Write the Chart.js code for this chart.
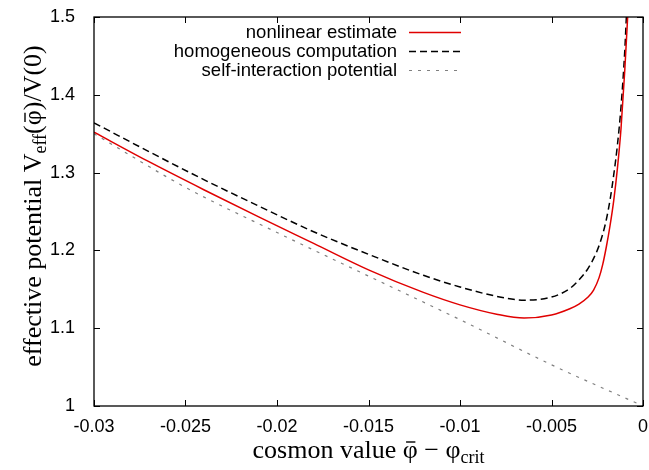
<!DOCTYPE html>
<html>
<head>
<meta charset="utf-8">
<script src="https://cdn.jsdelivr.net/npm/chart.js@4"></script>
<style>
  body { margin: 0; background: #fff; }
  #wrap { width: 649px; height: 470px; position: relative; }
</style>
</head>
<body>
<div id="wrap"><canvas id="chart"></canvas></div>
<script>
// data
const nonlinX = [-0.030, -0.027, -0.024, -0.021, -0.018, -0.015, -0.012, -0.010, -0.008, -0.0065, -0.005, -0.004, -0.0035, -0.003, -0.0027, -0.0024, -0.0022, -0.002, -0.0018, -0.0016, -0.0014, -0.0012, -0.001, -0.00085, -0.00077];
const nonlinY = [1.352, 1.314, 1.278, 1.243, 1.209, 1.175, 1.146, 1.130, 1.118, 1.113, 1.117, 1.125, 1.131, 1.140, 1.149, 1.165, 1.182, 1.205, 1.232, 1.264, 1.305, 1.357, 1.430, 1.495, 1.530];

const homogX = [-0.030, -0.027, -0.024, -0.021, -0.018, -0.015, -0.012, -0.010, -0.008, -0.0065, -0.005, -0.004, -0.0035, -0.003, -0.0025, -0.0022, -0.002, -0.0018, -0.0016, -0.0014, -0.0012, -0.001, -0.0009, -0.00085];
const homogY = [1.364, 1.327, 1.291, 1.257, 1.224, 1.195, 1.168, 1.153, 1.141, 1.136, 1.140, 1.151, 1.162, 1.177, 1.200, 1.221, 1.240, 1.265, 1.297, 1.335, 1.385, 1.455, 1.505, 1.530];

const selfX = [-0.030, -0.025, -0.020, -0.015, -0.010, -0.005, 0];
const selfY = [1.350, 1.281, 1.223, 1.167, 1.111, 1.053, 1.000];

const xTickValues = [-0.03, -0.025, -0.02, -0.015, -0.01, -0.005, 0];
const xTickLabels = ['-0.03', '-0.025', '-0.02', '-0.015', '-0.01', '-0.005', '0'];
const yTickValues = [1, 1.1, 1.2, 1.3, 1.4, 1.5];
const yTickLabels = ['1', '1.1', '1.2', '1.3', '1.4', '1.5'];

const seriesNames = ['nonlinear estimate', 'homogeneous computation', 'self-interaction potential'];

function pts(xs, ys) {
  return xs.map((x, i) => ({ x: x, y: ys[i] }));
}

const SANS = '"Liberation Sans", Arial, sans-serif';
const SERIF = '"Liberation Serif", "Times New Roman", serif';

// draws one line of mixed text (normal, subscript, barred symbol) centred on cx
function drawRich(ctx, parts, cx, cy) {
  let total = 0;
  parts.forEach(p => {
    ctx.font = p.font;
    p.w = ctx.measureText(p.t).width;
    total += p.w;
  });
  let x = cx - total / 2;
  parts.forEach(p => {
    ctx.font = p.font;
    ctx.fillText(p.t, x, cy + (p.dy || 0));
    if (p.bar) {
      ctx.save();
      ctx.lineWidth = 1.4;
      ctx.beginPath();
      ctx.moveTo(x + p.w * 0.22, cy - 16);
      ctx.lineTo(x + p.w * 0.84, cy - 16);
      ctx.stroke();
      ctx.restore();
    }
    x += p.w;
  });
}

const gnuplotFrame = {
  id: 'gnuplotFrame',
  afterDraw(chart) {
    const ctx = chart.ctx;
    const a = chart.chartArea;
    const xs = chart.scales.x, ys = chart.scales.y;
    ctx.save();
    ctx.strokeStyle = '#000';
    ctx.fillStyle = '#000';

    // inward tick marks on all four sides
    ctx.lineWidth = 1;
    ctx.beginPath();
    xTickValues.forEach(v => {
      const px = Math.round(xs.getPixelForValue(v)) + 0.5;
      ctx.moveTo(px, a.bottom); ctx.lineTo(px, a.bottom - 6);
      ctx.moveTo(px, a.top); ctx.lineTo(px, a.top + 6);
    });
    yTickValues.forEach(v => {
      const py = Math.round(ys.getPixelForValue(v)) + 0.5;
      ctx.moveTo(a.left, py); ctx.lineTo(a.left + 6, py);
      ctx.moveTo(a.right, py); ctx.lineTo(a.right - 6, py);
    });
    ctx.stroke();

    // border
    ctx.lineWidth = 1.3;
    ctx.strokeRect(a.left, a.top, a.right - a.left, a.bottom - a.top);

    // legend, gnuplot style: text right-aligned, sample line after it
    ctx.font = '18.5px ' + SANS;
    ctx.textAlign = 'right';
    ctx.textBaseline = 'middle';
    chart.data.datasets.forEach((ds, i) => {
      const y = 32 + i * 19;
      ctx.fillStyle = '#000';
      ctx.fillText(ds.label, 397, y + 1);
      ctx.save();
      ctx.strokeStyle = ds.borderColor;
      ctx.lineWidth = ds.borderWidth;
      ctx.setLineDash(ds.borderDash || []);
      ctx.beginPath();
      ctx.moveTo(409, y + 0.5); ctx.lineTo(461, y + 0.5);
      ctx.stroke();
      ctx.restore();
    });

    // axis titles
    ctx.fillStyle = '#000';
    ctx.textAlign = 'left';
    ctx.textBaseline = 'alphabetic';
    const big = '26px ' + SERIF, small = '18px ' + SERIF;
    drawRich(ctx, [
      { t: 'cosmon value ', font: big },
      { t: 'φ', font: big, bar: true },
      { t: ' − φ', font: big },
      { t: 'crit', font: small, dy: 5 }
    ], (a.left + a.right) / 2, 458);

    ctx.save();
    ctx.translate(41, 206);
    ctx.rotate(-Math.PI / 2);
    drawRich(ctx, [
      { t: 'effective potential V', font: big },
      { t: 'eff', font: small, dy: 5 },
      { t: '(', font: big },
      { t: 'φ', font: big, bar: true },
      { t: ')/V(0)', font: big }
    ], 0, 0);
    ctx.restore();

    ctx.restore();
  }
};

new Chart(document.getElementById('chart'), {
  type: 'line',
  data: {
    datasets: [
      {
        label: seriesNames[0],
        data: pts(nonlinX, nonlinY),
        borderColor: '#e00000',
        borderWidth: 1.5,
        pointRadius: 0,
        cubicInterpolationMode: 'monotone'
      },
      {
        label: seriesNames[1],
        data: pts(homogX, homogY),
        borderColor: '#000000',
        borderWidth: 1.5,
        borderDash: [7, 4],
        pointRadius: 0,
        cubicInterpolationMode: 'monotone'
      },
      {
        label: seriesNames[2],
        data: pts(selfX, selfY),
        borderColor: '#808080',
        borderWidth: 1.2,
        borderDash: [3, 6],
        pointRadius: 0,
        cubicInterpolationMode: 'monotone'
      }
    ]
  },
  options: {
    responsive: true,
    maintainAspectRatio: false,
    animation: false,
    layout: { padding: { top: 17, right: 6, left: 0, bottom: 0 } },
    plugins: {
      legend: { display: false },
      tooltip: { enabled: false }
    },
    scales: {
      x: {
        type: 'linear',
        min: -0.03,
        max: 0,
        grid: { display: false },
        border: { display: false },
        afterBuildTicks: s => { s.ticks = xTickValues.map(v => ({ value: v })); },
        afterFit: s => { s.height = 64; s.paddingLeft = 0; s.paddingRight = 0; },
        ticks: {
          autoSkip: false,
          maxRotation: 0,
          padding: 2,
          color: '#000',
          font: { family: SANS, size: 18 },
          callback: (v, i) => xTickLabels[i]
        }
      },
      y: {
        type: 'linear',
        min: 1,
        max: 1.5,
        grid: { display: false },
        border: { display: false },
        afterBuildTicks: s => { s.ticks = yTickValues.map(v => ({ value: v })); },
        afterFit: s => { s.width = 94; s.paddingTop = 0; s.paddingBottom = 0; },
        ticks: {
          autoSkip: false,
          padding: 11,
          color: '#000',
          font: { family: SANS, size: 18 },
          callback: (v, i) => yTickLabels[i]
        }
      }
    }
  },
  plugins: [gnuplotFrame]
});
</script>
</body>
</html>
